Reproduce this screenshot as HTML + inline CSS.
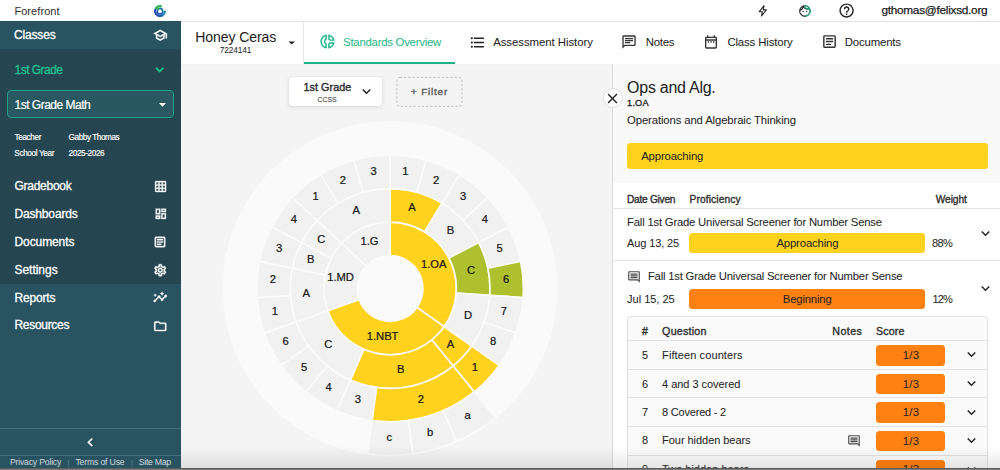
<!DOCTYPE html>
<html>
<head>
<meta charset="utf-8">
<title>Forefront</title>
<style>
*{box-sizing:border-box;margin:0;padding:0}
html,body{width:1000px;height:470px;overflow:hidden;background:#f4f4f4;font-family:"Liberation Sans",sans-serif;color:#212121}
div,svg{position:absolute}
.x{position:absolute;white-space:nowrap;line-height:20px;height:20px}
#app{left:0;top:0;width:1000px;height:470px;overflow:hidden;background:#f4f4f4}
#top{left:0;top:0;width:1000px;height:21px;background:#fff}
#topln{left:180.5px;top:20.6px;width:819.5px;height:1px;background:#e3e3e3}
#side{left:0;top:21px;width:180.5px;height:449px;background:#2a5362}
#sdark{left:0;top:48.6px;width:180.5px;height:235.1px;background:#254551}
#sel{left:7px;top:90.4px;width:167px;height:27.8px;border:1.6px solid #1fa487;border-radius:4px;background:#2a5860}
.ln{left:0;width:180.5px;height:1px;background:#46707d}
#hdr{left:180.5px;top:21.5px;width:819.5px;height:42px;background:#fff}
#hshadow{left:180.5px;top:63.5px;width:819.5px;height:4px;background:linear-gradient(rgba(0,0,0,.015),rgba(0,0,0,0))}
#hdiv{left:303.3px;top:21.5px;width:1px;height:42px;background:#e6e6e6}
#ul{left:304.2px;top:61.9px;width:151px;height:1.7px;background:#1bb486}
#chart{left:0;top:0}
#chart text{font-family:"Liberation Sans",sans-serif;font-size:11.2px;fill:#161616;text-anchor:middle;stroke:#161616;stroke-width:.22px}
#btn1{left:289px;top:77.4px;width:93.4px;height:28.8px;background:#fff;border-radius:4px;box-shadow:0 1px 5px rgba(0,0,0,.11),0 0 2px rgba(0,0,0,.05)}
#btn2{left:396.4px;top:77px;width:65.8px;height:29.6px;border:1px dashed #bcbcbc;border-radius:3px}
#panel{left:612px;top:63.5px;width:388px;height:407px;background:#f9f9f9;border-left:1px solid #dadada}
#pw{left:613px;top:183.4px;width:387px;height:287px;background:#fff}
.bar{border-radius:3.5px}
.hl{height:1px;background:#e2e2e2}
#itab{left:627px;top:316.4px;width:360.6px;height:170px;border:1px solid #e2e2e2;border-radius:3.5px;background:#fafafa}
#closec{left:602.5px;top:87.9px;width:20.6px;height:20.6px;border-radius:50%;background:#fff;border:1px solid #dfdfdf}
#bshadow{left:180.5px;top:446px;width:819.5px;height:23px;background:linear-gradient(rgba(0,0,0,0),rgba(0,0,0,.09))}
#bline{left:0;top:468.2px;width:1000px;height:1.8px;background:linear-gradient(#4e4e4e,#8a8a8a)}
</style>
</head>
<body>
<div id="app">
<div id="top"></div>
<div id="side"></div>
<div id="sdark"></div>
<div id="sel"></div>
<div class="ln" style="top:427.7px"></div>
<div class="ln" style="top:454.7px"></div>
<div id="hdr"></div>
<div id="hshadow"></div>
<div id="topln"></div>
<div id="hdiv"></div>
<div id="ul"></div>

<svg id="chart" width="1000" height="470" viewBox="0 0 1000 470">
<circle cx="390.0" cy="288.6" r="167.6" fill="#fafafa"/>
<g stroke="#fafafa" stroke-width="1.7" stroke-linejoin="round">
<path d="M390.10 255.70L390.10 222.20A66.3 66.3 0 0 1 444.27 326.73L416.90 307.42A32.8 32.8 0 0 0 390.10 255.70Z" fill="#ffd21e"/>
<path d="M416.90 307.42L444.27 326.73A66.3 66.3 0 0 1 327.63 310.70L359.19 299.48A32.8 32.8 0 0 0 416.90 307.42Z" fill="#ffd21e"/>
<path d="M359.19 299.48L327.63 310.70A66.3 66.3 0 0 1 341.65 243.25L366.13 266.11A32.8 32.8 0 0 0 359.19 299.48Z" fill="#f1f1f1"/>
<path d="M366.13 266.11L341.65 243.25A66.3 66.3 0 0 1 390.10 222.20L390.10 255.70A32.8 32.8 0 0 0 366.13 266.11Z" fill="#f1f1f1"/>
<path d="M390.10 222.20L390.10 188.60A99.9 99.9 0 0 1 442.01 203.14L424.55 231.85A66.3 66.3 0 0 0 390.10 222.20Z" fill="#ffd21e"/>
<path d="M424.55 231.85L442.01 203.14A99.9 99.9 0 0 1 478.80 242.54L448.97 258.00A66.3 66.3 0 0 0 424.55 231.85Z" fill="#f1f1f1"/>
<path d="M448.97 258.00L478.80 242.54A99.9 99.9 0 0 1 489.77 295.32L456.25 293.02A66.3 66.3 0 0 0 448.97 258.00Z" fill="#afc02f"/>
<path d="M456.25 293.02L489.77 295.32A99.9 99.9 0 0 1 471.72 346.11L444.27 326.73A66.3 66.3 0 0 0 456.25 293.02Z" fill="#f1f1f1"/>
<path d="M444.27 326.73L471.72 346.11A99.9 99.9 0 0 1 453.15 365.99L431.94 339.93A66.3 66.3 0 0 0 444.27 326.73Z" fill="#ffd21e"/>
<path d="M431.94 339.93L453.15 365.99A99.9 99.9 0 0 1 350.30 380.13L363.69 349.31A66.3 66.3 0 0 0 431.94 339.93Z" fill="#ffd21e"/>
<path d="M363.69 349.31L350.30 380.13A99.9 99.9 0 0 1 295.97 321.95L327.63 310.70A66.3 66.3 0 0 0 363.69 349.31Z" fill="#f1f1f1"/>
<path d="M327.63 310.70L295.97 321.95A99.9 99.9 0 0 1 292.29 268.17L325.19 275.01A66.3 66.3 0 0 0 327.63 310.70Z" fill="#f1f1f1"/>
<path d="M325.19 275.01L292.29 268.17A99.9 99.9 0 0 1 301.40 242.54L331.23 258.00A66.3 66.3 0 0 0 325.19 275.01Z" fill="#f1f1f1"/>
<path d="M331.23 258.00L301.40 242.54A99.9 99.9 0 0 1 317.09 220.31L341.65 243.25A66.3 66.3 0 0 0 331.23 258.00Z" fill="#f1f1f1"/>
<path d="M341.65 243.25L317.09 220.31A99.9 99.9 0 0 1 390.10 188.60L390.10 222.20A66.3 66.3 0 0 0 341.65 243.25Z" fill="#f1f1f1"/>
<path d="M390.10 188.60L390.10 155.20A133.3 133.3 0 0 1 426.06 160.14L417.05 192.30A99.9 99.9 0 0 0 390.10 188.60Z" fill="#f1f1f1"/>
<path d="M417.05 192.30L426.06 160.14A133.3 133.3 0 0 1 459.36 174.61L442.01 203.14A99.9 99.9 0 0 0 417.05 192.30Z" fill="#f1f1f1"/>
<path d="M442.01 203.14L459.36 174.61A133.3 133.3 0 0 1 487.52 197.52L463.11 220.31A99.9 99.9 0 0 0 442.01 203.14Z" fill="#f1f1f1"/>
<path d="M463.11 220.31L487.52 197.52A133.3 133.3 0 0 1 508.46 227.17L478.80 242.54A99.9 99.9 0 0 0 463.11 220.31Z" fill="#f1f1f1"/>
<path d="M478.80 242.54L508.46 227.17A133.3 133.3 0 0 1 520.61 261.38L487.91 268.17A99.9 99.9 0 0 0 478.80 242.54Z" fill="#f1f1f1"/>
<path d="M487.91 268.17L520.61 261.38A133.3 133.3 0 0 1 523.09 297.60L489.77 295.32A99.9 99.9 0 0 0 487.91 268.17Z" fill="#afc02f"/>
<path d="M489.77 295.32L523.09 297.60A133.3 133.3 0 0 1 515.70 333.14L484.23 321.95A99.9 99.9 0 0 0 489.77 295.32Z" fill="#f1f1f1"/>
<path d="M484.23 321.95L515.70 333.14A133.3 133.3 0 0 1 499.00 365.37L471.72 346.11A99.9 99.9 0 0 0 484.23 321.95Z" fill="#f1f1f1"/>
<path d="M471.72 346.11L499.00 365.37A133.3 133.3 0 0 1 474.22 391.90L453.15 365.99A99.9 99.9 0 0 0 471.72 346.11Z" fill="#ffd21e"/>
<path d="M453.15 365.99L474.22 391.90A133.3 133.3 0 0 1 371.95 420.56L376.50 387.47A99.9 99.9 0 0 0 453.15 365.99Z" fill="#ffd21e"/>
<path d="M376.50 387.47L371.95 420.56A133.3 133.3 0 0 1 336.99 410.76L350.30 380.13A99.9 99.9 0 0 0 376.50 387.47Z" fill="#f1f1f1"/>
<path d="M350.30 380.13L336.99 410.76A133.3 133.3 0 0 1 305.98 391.90L327.05 365.99A99.9 99.9 0 0 0 350.30 380.13Z" fill="#f1f1f1"/>
<path d="M327.05 365.99L305.98 391.90A133.3 133.3 0 0 1 281.20 365.37L308.48 346.11A99.9 99.9 0 0 0 327.05 365.99Z" fill="#f1f1f1"/>
<path d="M308.48 346.11L281.20 365.37A133.3 133.3 0 0 1 264.50 333.14L295.97 321.95A99.9 99.9 0 0 0 308.48 346.11Z" fill="#f1f1f1"/>
<path d="M295.97 321.95L264.50 333.14A133.3 133.3 0 0 1 257.11 297.60L290.43 295.32A99.9 99.9 0 0 0 295.97 321.95Z" fill="#f1f1f1"/>
<path d="M290.43 295.32L257.11 297.60A133.3 133.3 0 0 1 259.59 261.38L292.29 268.17A99.9 99.9 0 0 0 290.43 295.32Z" fill="#f1f1f1"/>
<path d="M292.29 268.17L259.59 261.38A133.3 133.3 0 0 1 271.74 227.17L301.40 242.54A99.9 99.9 0 0 0 292.29 268.17Z" fill="#f1f1f1"/>
<path d="M301.40 242.54L271.74 227.17A133.3 133.3 0 0 1 292.68 197.52L317.09 220.31A99.9 99.9 0 0 0 301.40 242.54Z" fill="#f1f1f1"/>
<path d="M317.09 220.31L292.68 197.52A133.3 133.3 0 0 1 320.84 174.61L338.19 203.14A99.9 99.9 0 0 0 317.09 220.31Z" fill="#f1f1f1"/>
<path d="M338.19 203.14L320.84 174.61A133.3 133.3 0 0 1 354.14 160.14L363.15 192.30A99.9 99.9 0 0 0 338.19 203.14Z" fill="#f1f1f1"/>
<path d="M363.15 192.30L354.14 160.14A133.3 133.3 0 0 1 390.10 155.20L390.10 188.60A99.9 99.9 0 0 0 363.15 192.30Z" fill="#f1f1f1"/>
<path d="M474.22 391.90L495.37 417.89A166.8 166.8 0 0 1 456.55 441.49L443.21 410.76A133.3 133.3 0 0 0 474.22 391.90Z" fill="#f1f1f1"/>
<path d="M443.21 410.76L456.55 441.49A166.8 166.8 0 0 1 412.81 453.75L408.25 420.56A133.3 133.3 0 0 0 443.21 410.76Z" fill="#f1f1f1"/>
<path d="M408.25 420.56L412.81 453.75A166.8 166.8 0 0 1 367.39 453.75L371.95 420.56A133.3 133.3 0 0 0 408.25 420.56Z" fill="#f1f1f1"/>
</g>
<text x="433.7" y="267.9">1.OA</text>
<text x="382.6" y="340.2">1.NBT</text>
<text x="340.6" y="280.7">1.MD</text>
<text x="369.5" y="245.1">1.G</text>
<text x="411.9" y="210.5">A</text>
<text x="450.4" y="233.9">B</text>
<text x="471.1" y="273.8">C</text>
<text x="468.0" y="318.7">D</text>
<text x="450.4" y="347.7">A</text>
<text x="400.8" y="373.4">B</text>
<text x="328.4" y="347.7">C</text>
<text x="306.2" y="296.5">A</text>
<text x="310.8" y="262.9">B</text>
<text x="321.3" y="242.7">C</text>
<text x="356.2" y="214.3">A</text>
<text x="405.3" y="175.0">1</text>
<text x="436.0" y="183.6">2</text>
<text x="463.2" y="200.1">3</text>
<text x="484.9" y="223.4">4</text>
<text x="499.6" y="251.7">5</text>
<text x="506.0" y="282.8">6</text>
<text x="503.9" y="314.6">7</text>
<text x="493.2" y="344.6">8</text>
<text x="474.8" y="370.6">1</text>
<text x="420.9" y="403.4">2</text>
<text x="357.9" y="403.4">3</text>
<text x="328.7" y="390.7">4</text>
<text x="304.0" y="370.6">5</text>
<text x="285.6" y="344.6">6</text>
<text x="274.9" y="314.6">1</text>
<text x="272.8" y="282.8">2</text>
<text x="279.2" y="251.7">3</text>
<text x="293.9" y="223.4">4</text>
<text x="315.6" y="200.1">1</text>
<text x="342.8" y="183.6">2</text>
<text x="373.5" y="175.0">3</text>
<text x="467.5" y="419.3">a</text>
<text x="430.0" y="435.6">b</text>
<text x="389.4" y="441.2">c</text>
</svg>

<div id="btn1"></div>
<svg style="left:395px;top:75px" width="70" height="34" viewBox="0 0 70 34"><rect x="1.9" y="2.4" width="65" height="29" rx="3" fill="none" stroke="#bdbdbd" stroke-width="1" stroke-dasharray="2.2 2"/></svg>

<div id="panel"></div>
<div id="pw"></div>
<div id="closec"></div>
<div class="bar" style="left:626.9px;top:142.7px;width:360.8px;height:26.6px;background:#ffd21e"></div>
<div class="hl" style="left:613px;top:208.2px;width:387px"></div>
<div class="bar" style="left:689.3px;top:232.6px;width:235.9px;height:20.3px;background:#ffd21e"></div>
<div class="hl" style="left:613px;top:260.4px;width:387px"></div>
<div class="bar" style="left:689.3px;top:288.7px;width:235.9px;height:20.5px;background:#ff8111"></div>
<div id="itab"></div>
<div class="hl" style="left:628px;top:340.3px;width:358.6px"></div>
<div class="bar" style="left:876px;top:345.1px;width:69.1px;height:20.5px;background:#ff8111"></div>
<svg style="position:absolute;left:962.80px;top:346.30px" width="17" height="17" viewBox="0 0 24 24"><path d="M16.590 8.590L12 13.170 7.410 8.590 6 10l6 6 6-6z" fill="#222"/></svg>
<div class="hl" style="left:628px;top:368.8px;width:358.6px"></div>
<div class="bar" style="left:876px;top:373.7px;width:69.1px;height:20.5px;background:#ff8111"></div>
<svg style="position:absolute;left:962.80px;top:374.90px" width="17" height="17" viewBox="0 0 24 24"><path d="M16.590 8.590L12 13.170 7.410 8.590 6 10l6 6 6-6z" fill="#222"/></svg>
<div class="hl" style="left:628px;top:397.4px;width:358.6px"></div>
<div class="bar" style="left:876px;top:402.3px;width:69.1px;height:20.5px;background:#ff8111"></div>
<svg style="position:absolute;left:962.80px;top:403.50px" width="17" height="17" viewBox="0 0 24 24"><path d="M16.590 8.590L12 13.170 7.410 8.590 6 10l6 6 6-6z" fill="#222"/></svg>
<div class="hl" style="left:628px;top:425.9px;width:358.6px"></div>
<div class="bar" style="left:876px;top:430.9px;width:69.1px;height:20.5px;background:#ff8111"></div>
<svg style="position:absolute;left:962.80px;top:432.10px" width="17" height="17" viewBox="0 0 24 24"><path d="M16.590 8.590L12 13.170 7.410 8.590 6 10l6 6 6-6z" fill="#222"/></svg>
<div class="hl" style="left:628px;top:454.5px;width:358.6px"></div>
<div class="bar" style="left:876px;top:459.5px;width:69.1px;height:20.5px;background:#ff8111"></div>
<svg style="position:absolute;left:962.80px;top:460.70px" width="17" height="17" viewBox="0 0 24 24"><path d="M16.590 8.590L12 13.170 7.410 8.590 6 10l6 6 6-6z" fill="#222"/></svg>

<div id="bshadow"></div>

<!-- icons -->
<svg style="position:absolute;left:153.05px;top:27.75px" width="14.5" height="14.5" viewBox="0 0 24 24"><path d="M12 3L1 9l4 2.18v6L12 21l7-3.820v-6l2-1.090V17h2V9L12 3zm6.820 6L12 12.720 5.180 9 12 5.280 18.820 9zM17 15.990l-5 2.730-5-2.730v-3.720L12 15l5-2.730v3.720z" fill="#fff" stroke="#fff" stroke-width="0.6"/></svg>
<svg style="position:absolute;left:152.35px;top:61.55px" width="15.5" height="15.5" viewBox="0 0 24 24"><path d="M16.590 8.590L12 13.170 7.410 8.590 6 10l6 6 6-6z" fill="#1dc08f" stroke="#1dc08f" stroke-width="1.3"/></svg>
<svg style="position:absolute;left:153.50px;top:95.70px" width="17.0" height="17.0" viewBox="0 0 24 24"><path d="M7 10l5 5 5-5z" fill="#fff"/></svg>
<svg style="position:absolute;left:153.70px;top:179.70px" width="13.2" height="13.2" viewBox="0 0 24 24"><path d="M20 2H4c-1.100 0-2 .9-2 2v16c0 1.100.9 2 2 2h16c1.100 0 2-.9 2-2V4c0-1.100-.9-2-2-2zM8 20H4v-4h4v4zm0-6H4v-4h4v4zm0-6H4V4h4v4zm6 12h-4v-4h4v4zm0-6h-4v-4h4v4zm0-6h-4V4h4v4zm6 12h-4v-4h4v4zm0-6h-4v-4h4v4zm0-6h-4V4h4v4z" fill="#fff" stroke="#fff" stroke-width="0.6"/></svg>
<svg style="position:absolute;left:153.50px;top:207.30px" width="13.6" height="13.6" viewBox="0 0 24 24"><path d="M19 5v2h-4V5h4M9 5v6H5V5h4m10 8v6h-4v-6h4M9 17v2H5v-2h4M21 3h-8v6h8V3zM11 3H3v10h8V3zm10 8h-8v10h8V11zm-10 4H3v6h8v-6z" fill="#fff" stroke="#fff" stroke-width="0.6"/></svg>
<svg style="position:absolute;left:153.30px;top:234.90px" width="14.0" height="14.0" viewBox="0 0 24 24"><path d="M19 5v14H5V5h14m0-2H5c-1.100 0-2 .9-2 2v14c0 1.100.9 2 2 2h14c1.100 0 2-.9 2-2V5c0-1.100-.9-2-2-2zM14 17H7v-2h7v2zm3-4H7v-2h10v2zm0-4H7V7h10v2z" fill="#fff" stroke="#fff" stroke-width="0.6"/></svg>
<svg style="position:absolute;left:152.95px;top:262.65px" width="14.5" height="14.5" viewBox="0 0 24 24"><path d="M19.430 12.980c.04-.32.07-.64.07-.98 0-.34-.03-.66-.07-.98l2.110-1.650c.19-.15.24-.42.12-.64l-2-3.460c-.09-.16-.26-.25-.44-.25-.06 0-.12.01-.17.03l-2.490 1c-.52-.4-1.080-.73-1.690-.98l-.38-2.650C14.460 2.180 14.250 2 14 2h-4c-.25 0-.46.18-.49.42l-.38 2.650c-.61.25-1.170.59-1.690.98l-2.490-1c-.06-.02-.12-.03-.18-.03-.17 0-.34.09-.43.25l-2 3.460c-.13.22-.07.49.12.64l2.110 1.650c-.04.32-.07.65-.07.980 0 .33.03.66.07.98l-2.110 1.650c-.19.15-.24.42-.12.64l2 3.460c.09.16.26.25.44.25.06 0 .12-.01.17-.03l2.490-1c.52.4 1.080.73 1.690.98l.38 2.650c.03.24.24.42.49.42h4c.25 0 .46-.18.49-.42l.38-2.650c.61-.25 1.170-.59 1.690-.98l2.490 1c.06.02.12.03.18.03.17 0 .34-.09.43-.25l2-3.460c.12-.22.07-.49-.12-.64l-2.110-1.650zm-1.980-1.710c.04.31.05.52.05.73 0 .21-.02.43-.05.73l-.14 1.130.89.7 1.080.84-.7 1.210-1.270-.51-1.040-.42-.9.68c-.43.32-.84.56-1.250.73l-1.060.43-.16 1.130-.2 1.350h-1.400l-.19-1.350-.16-1.130-1.060-.43c-.43-.18-.83-.41-1.230-.71l-.91-.7-1.060.43-1.270.51-.7-1.210 1.080-.84.89-.7-.14-1.130c-.03-.31-.05-.54-.05-.74s.02-.43.05-.73l.14-1.130-.89-.7-1.080-.84.7-1.210 1.270.51 1.040.42.9-.68c.43-.32.84-.56 1.250-.73l1.060-.43.16-1.130.2-1.350h1.390l.19 1.350.16 1.130 1.060.43c.43.18.83.41 1.230.71l.91.7 1.060-.43 1.270-.51.7 1.210-1.070.85-.89.7.14 1.130zM12 8c-2.210 0-4 1.790-4 4s1.790 4 4 4 4-1.790 4-4-1.790-4-4-4zm0 6c-1.100 0-2-.9-2-2s.9-2 2-2 2 .9 2 2-.9 2-2 2z" fill="#fff" stroke="#fff" stroke-width="0.6"/></svg>
<svg style="position:absolute;left:152.95px;top:290.35px" width="14.5" height="14.5" viewBox="0 0 24 24"><path d="M21 8c-1.450 0-2.260 1.440-1.930 2.510l-3.550 3.560c-.3-.09-.74-.09-1.040 0l-2.550-2.550C12.270 10.450 11.460 9 10 9c-1.450 0-2.270 1.440-1.930 2.520l-4.560 4.550C2.440 15.740 1 16.550 1 18c0 1.100.9 2 2 2 1.450 0 2.260-1.440 1.930-2.510l4.550-4.560c.3.09.74.09 1.040 0l2.550 2.550C12.730 16.550 13.540 18 15 18c1.450 0 2.270-1.440 1.930-2.520l3.560-3.550c1.070.33 2.510-.48 2.510-1.930 0-1.100-.9-2-2-2zM15 9l.94-2.070L18 6l-2.060-.93L15 3l-.92 2.070L12 6l2.080.93zM3.500 11L4 9l2-.5L4 8l-.5-2L3 8l-2 .5L3 9z" fill="#fff" stroke="#fff" stroke-width="0.6"/></svg>
<svg style="position:absolute;left:152.75px;top:318.55px" width="14.5" height="14.5" viewBox="0 0 24 24"><path d="M9.170 6l2 2H20v10H4V6h5.170M10 4H4c-1.100 0-1.990.9-1.990 2L2 18c0 1.100.9 2 2 2h16c1.100 0 2-.9 2-2V8c0-1.100-.9-2-2-2h-8l-2-2z" fill="#fff" stroke="#fff" stroke-width="0.6"/></svg>
<svg style="position:absolute;left:82.35px;top:433.55px" width="16.5" height="16.5" viewBox="0 0 24 24"><path d="M15.410 7.410L14 6l-6 6 6 6 1.410-1.410L10.830 12z" fill="#fff" stroke="#fff" stroke-width="0.6"/></svg>
<svg style="position:absolute;left:837.70px;top:1.85px" width="17.2" height="17.2" viewBox="0 0 24 24"><path d="M11 18h2v-2h-2v2zm1-16C6.480 2 2 6.480 2 12s4.480 10 10 10 10-4.480 10-10S17.520 2 12 2zm0 18c-4.410 0-8-3.590-8-8s3.590-8 8-8 8 3.590 8 8-3.590 8-8 8zm0-14c-2.210 0-4 1.790-4 4h2c0-1.100.9-2 2-2s2 .9 2 2c0 2-3 1.750-3 5h2c0-2.250 3-2.500 3-5 0-2.210-1.790-4-4-4z" fill="#222"/></svg>
<svg style="position:absolute;left:284.10px;top:35.00px" width="15.4" height="15.4" viewBox="0 0 24 24"><path d="M7 10l5 5 5-5z" fill="#222"/></svg>
<svg style="position:absolute;left:318.65px;top:33.25px" width="17.0" height="17.0" viewBox="0 0 24 24"><path d="M14.820 11h7.130c-.47-4.720-4.230-8.480-8.950-8.950v7.130c.85.31 1.510.97 1.820 1.820zM15 4.580C17 5.400 18.600 7 19.420 9h-3.430c-.28-.37-.62-.71-.99-.99V4.580zM2 12c0 5.190 3.950 9.450 9 9.950v-7.130C9.840 14.400 9 13.300 9 12c0-1.300.84-2.400 2-2.820V2.050c-5.050.5-9 4.760-9 9.950zm7-7.420v3.440c-1.230.92-2 2.390-2 3.980 0 1.590.77 3.060 2 3.990v3.440C6.040 18.240 4 15.350 4 12c0-3.350 2.040-6.240 5-7.420zm4 10.240v7.130c4.720-.47 8.480-4.230 8.950-8.950h-7.130c-.31.85-.97 1.510-1.820 1.820zm2 1.170c.37-.28.710-.61.990-.99h3.430C18.600 17 17 18.600 15 19.420v-3.430z" fill="#1bb486"/></svg>
<svg style="position:absolute;left:469.30px;top:33.50px" width="17.0" height="17.0" viewBox="0 0 24 24"><path d="M4 10.500c-.83 0-1.500.67-1.500 1.500s.67 1.500 1.500 1.500 1.500-.67 1.500-1.500-.67-1.500-1.500-1.500zm0-6c-.83 0-1.500.67-1.500 1.500S3.170 7.500 4 7.500 5.500 6.830 5.500 6 4.830 4.500 4 4.500zm0 12c-.83 0-1.500.68-1.500 1.500s.68 1.500 1.500 1.500 1.500-.68 1.500-1.500-.67-1.500-1.500-1.500zM7 19h14v-2H7v2zm0-6h14v-2H7v2zm0-8v2h14V5H7z" fill="#222"/></svg>
<svg style="position:absolute;left:621.30px;top:33.80px" width="16.0" height="16.0" viewBox="0 0 24 24"><path d="M4 4h16v12H5.170L4 17.170V4m0-2c-1.100 0-1.990.9-1.990 2L2 22l4-4h14c1.100 0 2-.9 2-2V4c0-1.100-.9-2-2-2H4zm2 10h8v2H6v-2zm0-3h12v2H6V9zm0-3h12v2H6V6z" fill="#333"/></svg>
<svg style="position:absolute;left:703.40px;top:33.50px" width="16.0" height="16.0" viewBox="0 0 24 24"><path d="M7 11h2v2H7v-2zm14-5v14c0 1.100-.9 2-2 2H5c-1.110 0-2-.9-2-2l.01-14c0-1.100.88-2 1.990-2h1V2h2v2h8V2h2v2h1c1.100 0 2 .9 2 2zM5 8h14V6H5v2zm14 12V10H5v10h14zm-4-7h2v-2h-2v2zm-4 0h2v-2h-2v2z" fill="#333"/></svg>
<svg style="position:absolute;left:820.60px;top:33.20px" width="17.0" height="17.0" viewBox="0 0 24 24"><path d="M19 5v14H5V5h14m0-2H5c-1.100 0-2 .9-2 2v14c0 1.100.9 2 2 2h14c1.100 0 2-.9 2-2V5c0-1.100-.9-2-2-2zM14 17H7v-2h7v2zm3-4H7v-2h10v2zm0-4H7V7h10v2z" fill="#333"/></svg>
<svg style="position:absolute;left:604.30px;top:89.70px" width="17.0" height="17.0" viewBox="0 0 24 24"><path d="M19 6.410L17.590 5 12 10.590 6.410 5 5 6.410 10.590 12 5 17.590 6.410 19 12 13.410 17.590 19 19 17.590 13.410 12z" fill="#222"/></svg>
<svg style="position:absolute;left:358.20px;top:82.90px" width="17.0" height="17.0" viewBox="0 0 24 24"><path d="M16.590 8.590L12 13.170 7.410 8.590 6 10l6 6 6-6z" fill="#222"/></svg>
<svg style="position:absolute;left:977.40px;top:225.00px" width="17.0" height="17.0" viewBox="0 0 24 24"><path d="M16.590 8.590L12 13.170 7.410 8.590 6 10l6 6 6-6z" fill="#222"/></svg>
<svg style="position:absolute;left:977.40px;top:279.50px" width="17.0" height="17.0" viewBox="0 0 24 24"><path d="M16.590 8.590L12 13.170 7.410 8.590 6 10l6 6 6-6z" fill="#222"/></svg>
<svg style="position:absolute;left:626.90px;top:269.50px" width="14.0" height="14.0" viewBox="0 0 24 24"><path d="M21.990 4c0-1.100-.89-2-1.990-2H4c-1.100 0-2 .9-2 2v12c0 1.100.9 2 2 2h14l4 4-.01-18zM20 4v13.170L18.830 16H4V4h16zM6 12h12v2H6zm0-3h12v2H6zm0-3h12v2H6z" fill="#4a4a4a"/></svg>
<svg style="position:absolute;left:846.90px;top:433.90px" width="14.0" height="14.0" viewBox="0 0 24 24"><path d="M21.990 4c0-1.100-.89-2-1.990-2H4c-1.100 0-2 .9-2 2v12c0 1.100.9 2 2 2h14l4 4-.01-18zM20 4v13.170L18.830 16H4V4h16zM6 12h12v2H6zm0-3h12v2H6zm0-3h12v2H6z" fill="#4a4a4a"/></svg>

<svg style="left:152.8px;top:3.7px" width="14" height="14" viewBox="0 0 14 14" fill="none">
<path d="M2.46 5.16A4.9 4.9 0 0 1 8.68 2.40" stroke="#25b44e" stroke-width="2.3"/>
<path d="M7.17 11.90A4.9 4.9 0 0 1 2.46 5.16" stroke="#1b52b4" stroke-width="2.3"/>
<path d="M11.90 6.83A4.9 4.9 0 0 1 7.68 11.85" stroke="#148aa8" stroke-width="2.2"/>
<path d="M9.45 11.24A4.9 4.9 0 0 1 5.32 11.60" stroke="#1b62b0" stroke-width="2.2"/>
<circle cx="7" cy="7.2" r="2.7" stroke="#1f55ae" stroke-width="1.5"/>
<path d="M7.47 4.54A2.7 2.7 0 0 1 9.66 7.67" stroke="#1683a6" stroke-width="1.5"/>
<path d="M4.46 6.28A2.7 2.7 0 0 1 6.53 4.54" stroke="#2aa860" stroke-width="1.5"/>
</svg>
<svg style="left:756.4px;top:3.8px" width="13.6" height="13.6" viewBox="0 0 24 24" fill="none"><path d="M14.2 3L5.800 13.600H11.300L9.800 21L18.200 10.400H12.700Z" stroke="#222" stroke-width="1.9" stroke-linejoin="round"/></svg>
<svg style="left:797.9px;top:3.7px" width="13.8" height="13.8" viewBox="0 0 24 24"><path d="M10.250 13c0 .69-.56 1.250-1.250 1.250S7.750 13.690 7.750 13s.56-1.250 1.250-1.250 1.250.56 1.250 1.250zM15 11.750c-.69 0-1.250.56-1.250 1.250s.56 1.250 1.250 1.250 1.250-.56 1.250-1.250-.56-1.250-1.250-1.250zm7 .25c0 5.520-4.480 10-10 10S2 17.520 2 12 6.480 2 12 2s10 4.480 10 10zM10.660 4.120C12.060 6.440 14.600 8 17.500 8c.46 0 .91-.05 1.340-.12C17.440 5.560 14.900 4 12 4c-.46 0-.91.05-1.340.12zM4.420 9.470c1.710-.97 3.030-2.550 3.660-4.440C6.370 6 5.050 7.580 4.420 9.470zM20 12c0-.78-.12-1.530-.33-2.240-.7.15-1.420.24-2.170.24-3.130 0-5.920-1.440-7.760-3.690C8.690 8.870 6.600 10.880 4 11.860c.1.040 0 .09 0 .14 0 4.410 3.590 8 8 8s8-3.590 8-8z" fill="#2b2b2b"/><path d="M12 3A9 9 0 0 1 12 21" stroke="#1bb486" stroke-width="2.1" fill="none"/><path d="M11 5.500Q14 8.800 19 9" stroke="#1bb486" stroke-width="1.800" fill="none"/></svg>
<span class="x" style="left:14.40px;top:1.00px;font-size:11px;font-weight:400;color:#2e2e2e;letter-spacing:0.072px">Forefront</span>
<span class="x" style="left:881.40px;top:0.00px;font-size:11.8px;font-weight:400;color:#1c1c1c;letter-spacing:-0.265px;-webkit-text-stroke:.25px #1c1c1c">gthomas@felixsd.org</span>
<span class="x" style="left:14.10px;top:25.00px;font-size:12px;font-weight:400;color:#fff;letter-spacing:-0.191px;-webkit-text-stroke:.3px #fff">Classes</span>
<span class="x" style="left:14.50px;top:60.00px;font-size:12px;font-weight:400;color:#1dc08f;letter-spacing:-0.520px;-webkit-text-stroke:.3px #1dc08f">1st Grade</span>
<span class="x" style="left:14.50px;top:95.00px;font-size:12px;font-weight:400;color:#fff;letter-spacing:-0.498px;-webkit-text-stroke:.2px #fff">1st Grade Math</span>
<span class="x" style="left:14.50px;top:128.00px;font-size:8.2px;font-weight:400;color:#fff;letter-spacing:-0.363px;-webkit-text-stroke:.15px #fff">Teacher</span>
<span class="x" style="left:68.60px;top:128.00px;font-size:8.2px;font-weight:400;color:#fff;letter-spacing:-0.433px;-webkit-text-stroke:.15px #fff">Gabby Thomas</span>
<span class="x" style="left:14.30px;top:144.00px;font-size:8.2px;font-weight:400;color:#fff;letter-spacing:-0.354px;-webkit-text-stroke:.15px #fff">School Year</span>
<span class="x" style="left:68.60px;top:144.00px;font-size:8.2px;font-weight:400;color:#fff;letter-spacing:-0.387px;-webkit-text-stroke:.15px #fff">2025-2026</span>
<span class="x" style="left:14.50px;top:176.00px;font-size:12px;font-weight:400;color:#fff;letter-spacing:-0.267px;-webkit-text-stroke:.3px #fff">Gradebook</span>
<span class="x" style="left:14.50px;top:204.00px;font-size:12px;font-weight:400;color:#fff;letter-spacing:-0.164px;-webkit-text-stroke:.3px #fff">Dashboards</span>
<span class="x" style="left:14.50px;top:232.00px;font-size:12px;font-weight:400;color:#fff;letter-spacing:-0.095px;-webkit-text-stroke:.3px #fff">Documents</span>
<span class="x" style="left:14.50px;top:260.00px;font-size:12px;font-weight:400;color:#fff;letter-spacing:-0.031px;-webkit-text-stroke:.3px #fff">Settings</span>
<span class="x" style="left:14.50px;top:288.00px;font-size:12px;font-weight:400;color:#fff;letter-spacing:-0.182px;-webkit-text-stroke:.3px #fff">Reports</span>
<span class="x" style="left:14.50px;top:315.00px;font-size:12px;font-weight:400;color:#fff;letter-spacing:-0.302px;-webkit-text-stroke:.3px #fff">Resources</span>
<span class="x" style="left:9.90px;top:452.00px;font-size:8.7px;font-weight:400;color:#cfd9dd;letter-spacing:-0.200px">Privacy Policy</span>
<span class="x" style="left:67.30px;top:453.00px;font-size:8px;font-weight:400;color:#5f808b;letter-spacing:0.000px">|</span>
<span class="x" style="left:75.40px;top:452.00px;font-size:8.7px;font-weight:400;color:#cfd9dd;letter-spacing:-0.173px">Terms of Use</span>
<span class="x" style="left:131.00px;top:453.00px;font-size:8px;font-weight:400;color:#5f808b;letter-spacing:0.000px">|</span>
<span class="x" style="left:138.70px;top:452.00px;font-size:8.7px;font-weight:400;color:#cfd9dd;letter-spacing:-0.260px">Site Map</span>
<span class="x" style="left:195.30px;top:27.00px;font-size:14px;font-weight:400;color:#212121;letter-spacing:-0.082px">Honey Ceras</span>
<span class="x" style="left:219.70px;top:40.00px;font-size:8.3px;font-weight:400;color:#212121;letter-spacing:-0.108px">7224141</span>
<span class="x" style="left:343.10px;top:32.00px;font-size:11.4px;font-weight:400;color:#1bb486;letter-spacing:-0.261px">Standards Overview</span>
<span class="x" style="left:493.20px;top:32.00px;font-size:11.4px;font-weight:400;color:#212121;letter-spacing:-0.055px">Assessment History</span>
<span class="x" style="left:645.80px;top:32.00px;font-size:11.4px;font-weight:400;color:#212121;letter-spacing:-0.284px">Notes</span>
<span class="x" style="left:727.40px;top:32.00px;font-size:11.4px;font-weight:400;color:#212121;letter-spacing:-0.139px">Class History</span>
<span class="x" style="left:844.80px;top:32.00px;font-size:11.4px;font-weight:400;color:#212121;letter-spacing:-0.175px">Documents</span>
<span class="x" style="left:303.60px;top:77.00px;font-size:10.8px;font-weight:400;color:#2a2a2a;letter-spacing:0.024px;-webkit-text-stroke:.35px #2a2a2a">1st Grade</span>
<span class="x" style="left:317.40px;top:90.00px;font-size:7px;font-weight:400;color:#333;letter-spacing:-0.038px">CCSS</span>
<span class="x" style="left:411.00px;top:82.00px;font-size:9.9px;font-weight:400;color:#555;letter-spacing:0.818px;-webkit-text-stroke:.35px #555">+ Filter</span>
<span class="x" style="left:627.10px;top:78.00px;font-size:16px;font-weight:400;color:#212121;letter-spacing:-0.264px">Ops and Alg.</span>
<span class="x" style="left:627.10px;top:93.00px;font-size:9.2px;font-weight:400;color:#212121;letter-spacing:0.182px;-webkit-text-stroke:.3px #212121">1.OA</span>
<span class="x" style="left:627.10px;top:110.00px;font-size:11.3px;font-weight:400;color:#212121;letter-spacing:-0.112px">Operations and Algebraic Thinking</span>
<span class="x" style="left:641.20px;top:146.00px;font-size:11.3px;font-weight:400;color:#212121;letter-spacing:-0.131px">Approaching</span>
<span class="x" style="left:626.90px;top:190.00px;font-size:10.2px;font-weight:400;color:#2e2e2e;letter-spacing:-0.263px;-webkit-text-stroke:.35px #2e2e2e">Date Given</span>
<span class="x" style="left:689.60px;top:190.00px;font-size:10.2px;font-weight:400;color:#2e2e2e;letter-spacing:0.108px;-webkit-text-stroke:.35px #2e2e2e">Proficiency</span>
<span class="x" style="left:935.70px;top:190.00px;font-size:10.2px;font-weight:400;color:#2e2e2e;letter-spacing:-0.065px;-webkit-text-stroke:.35px #2e2e2e">Weight</span>
<span class="x" style="left:627.10px;top:212.00px;font-size:11.3px;font-weight:400;color:#212121;letter-spacing:-0.205px">Fall 1st Grade Universal Screener for Number Sense</span>
<span class="x" style="left:627.10px;top:233.00px;font-size:11px;font-weight:400;color:#212121;letter-spacing:-0.122px">Aug 13, 25</span>
<span class="x" style="left:776.40px;top:233.00px;font-size:11.3px;font-weight:400;color:#212121;letter-spacing:-0.131px">Approaching</span>
<span class="x" style="left:932.10px;top:233.00px;font-size:11px;font-weight:400;color:#212121;letter-spacing:-0.706px">88%</span>
<span class="x" style="left:647.90px;top:266.00px;font-size:11.3px;font-weight:400;color:#212121;letter-spacing:-0.209px">Fall 1st Grade Universal Screener for Number Sense</span>
<span class="x" style="left:627.10px;top:289.00px;font-size:11px;font-weight:400;color:#212121;letter-spacing:-0.020px">Jul 15, 25</span>
<span class="x" style="left:782.80px;top:289.00px;font-size:11.3px;font-weight:400;color:#212121;letter-spacing:-0.167px">Beginning</span>
<span class="x" style="left:932.60px;top:289.00px;font-size:11px;font-weight:400;color:#212121;letter-spacing:-0.956px">12%</span>
<span class="x" style="left:641.90px;top:321.00px;font-size:10.7px;font-weight:400;color:#2e2e2e;letter-spacing:0.000px;-webkit-text-stroke:.35px #2e2e2e">#</span>
<span class="x" style="left:662.10px;top:321.00px;font-size:10.7px;font-weight:400;color:#2e2e2e;letter-spacing:0.219px;-webkit-text-stroke:.35px #2e2e2e">Question</span>
<span class="x" style="left:832.30px;top:321.00px;font-size:10.7px;font-weight:400;color:#2e2e2e;letter-spacing:0.423px;-webkit-text-stroke:.35px #2e2e2e">Notes</span>
<span class="x" style="left:876.00px;top:321.00px;font-size:10.7px;font-weight:400;color:#2e2e2e;letter-spacing:0.148px;-webkit-text-stroke:.35px #2e2e2e">Score</span>
<span class="x" style="left:641.90px;top:345.00px;font-size:11px;font-weight:400;color:#212121;letter-spacing:0.000px">5</span>
<span class="x" style="left:662.10px;top:345.00px;font-size:11px;font-weight:400;color:#212121;letter-spacing:0.103px">Fifteen counters</span>
<span class="x" style="left:902.80px;top:345.00px;font-size:11.3px;font-weight:400;color:#212121;letter-spacing:0.204px">1/3</span>
<span class="x" style="left:641.90px;top:374.00px;font-size:11px;font-weight:400;color:#212121;letter-spacing:0.000px">6</span>
<span class="x" style="left:662.10px;top:374.00px;font-size:11px;font-weight:400;color:#212121;letter-spacing:-0.041px">4 and 3 covered</span>
<span class="x" style="left:902.80px;top:374.00px;font-size:11.3px;font-weight:400;color:#212121;letter-spacing:0.204px">1/3</span>
<span class="x" style="left:641.90px;top:402.00px;font-size:11px;font-weight:400;color:#212121;letter-spacing:0.000px">7</span>
<span class="x" style="left:662.10px;top:402.00px;font-size:11px;font-weight:400;color:#212121;letter-spacing:-0.211px">8 Covered - 2</span>
<span class="x" style="left:902.80px;top:402.00px;font-size:11.3px;font-weight:400;color:#212121;letter-spacing:0.204px">1/3</span>
<span class="x" style="left:641.90px;top:430.00px;font-size:11px;font-weight:400;color:#212121;letter-spacing:0.000px">8</span>
<span class="x" style="left:662.10px;top:430.00px;font-size:11px;font-weight:400;color:#212121;letter-spacing:-0.048px">Four hidden bears</span>
<span class="x" style="left:902.80px;top:431.00px;font-size:11.3px;font-weight:400;color:#212121;letter-spacing:0.204px">1/3</span>
<span class="x" style="left:641.90px;top:459.00px;font-size:11px;font-weight:400;color:#212121;letter-spacing:0.000px">9</span>
<span class="x" style="left:662.10px;top:459.00px;font-size:11px;font-weight:400;color:#212121;letter-spacing:-0.002px">Two hidden bears</span>
<span class="x" style="left:902.80px;top:459.00px;font-size:11.3px;font-weight:400;color:#212121;letter-spacing:0.204px">1/3</span>
<div id="bline"></div>
</div>
</body>
</html>
